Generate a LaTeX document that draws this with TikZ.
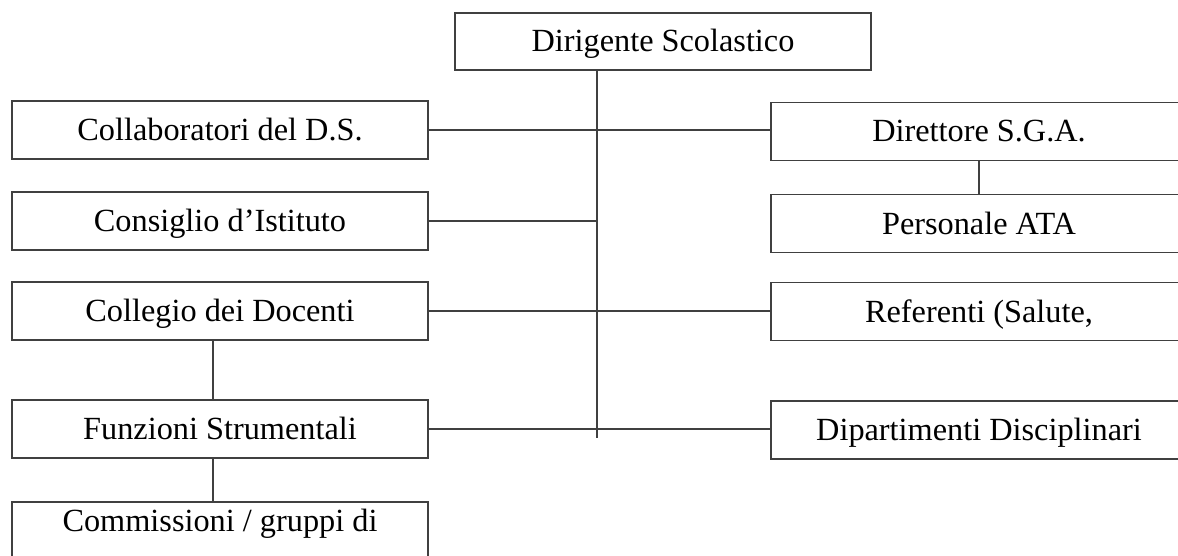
\documentclass[tikz,border=0pt]{standalone}
\usepackage{fontspec}
\setmainfont{Liberation Serif}
\tikzset{
  orgbox/.style={draw=black!75, line width=1.6pt, fill=white, minimum width=416pt, minimum height=58pt, inner sep=0pt, text height=22pt, text depth=1pt, font=\fontsize{32.3}{37}\selectfont},
  link/.style={draw=black!75, line width=1.6pt}
}
\begin{document}
\begin{tikzpicture}[x=1pt,y=-1pt]
\useasboundingbox (0,0) rectangle (1178,556);
\clip (0,0) rectangle (1178,556);
\fill[white] (0,0) rectangle (1178,556);
% nodes
\node[orgbox, minimum height=57pt] (ds) at (663,41.5) {Dirigente Scolastico};
\node[orgbox] (collab) at (220,130) {Collaboratori del D.S.};
\node[orgbox] (consiglio) at (220,221) {Consiglio d'Istituto};
\node[orgbox] (collegio) at (220,311) {Collegio dei Docenti};
\node[orgbox] (funzioni) at (220,429) {Funzioni Strumentali};
\node[orgbox, minimum height=0pt, text height=22pt, text depth=45pt, inner ysep=8pt, anchor=north] (commissioni) at (220,501) {Commissioni / gruppi di};
\node[orgbox] (direttore) at (979,131.5) {Direttore S.G.A.};
\node[orgbox] (personale) at (979,223.5) {Personale ATA};
\node[orgbox] (referenti) at (979,311.5) {Referenti (Salute,};
\node[orgbox] (dipartimenti) at (979,430) {Dipartimenti Disciplinari};
% connectors
\coordinate (trunkend) at (597,438);
\coordinate (leftx) at (213,0);
\draw[link] (ds.south -| trunkend) -- (trunkend);
\draw[link] (collab.east) -- (collab.east -| direttore.west);
\draw[link] (consiglio.east) -- (consiglio.east -| trunkend);
\draw[link] (collegio.east) -- (collegio.east -| referenti.west);
\draw[link] (funzioni.east) -- (funzioni.east -| dipartimenti.west);
\draw[link] (direttore.south) -- (personale.north);
\draw[link] (collegio.south -| leftx) -- (funzioni.north -| leftx);
\draw[link] (funzioni.south -| leftx) -- (commissioni.north -| leftx);
\end{tikzpicture}
\end{document}
